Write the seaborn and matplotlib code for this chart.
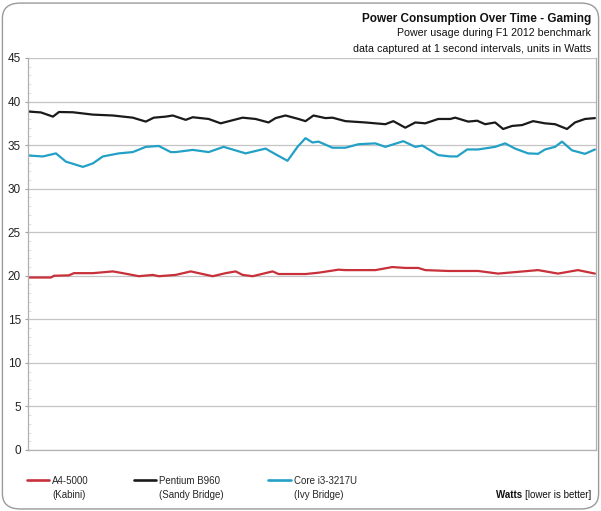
import numpy as np
import pandas as pd
import matplotlib
matplotlib.use("Agg")
import matplotlib.pyplot as plt
import seaborn as sns
from matplotlib.patches import FancyBboxPatch
from matplotlib.legend_handler import HandlerLine2D
from matplotlib.ticker import MultipleLocator

sns.set_style("white")
plt.rcParams['font.family'] = ['Liberation Sans', 'DejaVu Sans']

# time (s) and power readings (W)
t_a4 = [0, 22, 25, 40, 45, 64, 84, 94, 110, 124, 130, 147, 162, 170, 184, 197, 207, 214, 224, 244,
        250, 277, 290, 310, 317, 347, 364, 377, 390, 397, 420, 450, 470, 490, 510, 530, 550, 567]
w_a4 = [19.8, 19.8, 20.0, 20.05, 20.3, 20.3, 20.5, 20.3, 19.95, 20.1, 19.95, 20.1, 20.5, 20.3, 19.95, 20.3, 20.5, 20.1, 19.95, 20.5,
        20.2, 20.2, 20.35, 20.7, 20.65, 20.65, 21.0, 20.9, 20.9, 20.65, 20.55, 20.55, 20.25, 20.45, 20.65, 20.25, 20.65, 20.25]

t_b960 = [0, 12, 24, 30, 44, 64, 84, 104, 117, 125, 137, 144, 157, 164, 180, 192, 214, 227, 240, 247,
          257, 270, 277, 285, 297, 304, 317, 337, 357, 365, 377, 387, 397, 410, 422, 427, 440, 449,
          457, 467, 475, 484, 494, 505, 517, 527, 539, 547, 557, 567]
w_b960 = [38.85, 38.75, 38.27, 38.8, 38.77, 38.5, 38.4, 38.15, 37.7, 38.15, 38.27, 38.4, 37.9, 38.2, 38.0, 37.5, 38.15, 38.0, 37.6, 38.1,
          38.4, 38.0, 37.75, 38.4, 38.1, 38.15, 37.75, 37.6, 37.4, 37.75, 37.0, 37.6, 37.5, 38.0, 38.0, 38.15, 37.7, 37.8,
          37.4, 37.6, 36.85, 37.2, 37.3, 37.75, 37.5, 37.4, 36.85, 37.6, 38.0, 38.1]

t_i3 = [0, 14, 27, 37, 54, 64, 74, 90, 104, 117, 130, 142, 147, 164, 180, 195, 217, 237, 247, 259,
        269, 277, 284, 290, 304, 317, 330, 347, 357, 375, 387, 394, 410, 422, 429, 439, 450, 467,
        477, 487, 500, 510, 517, 527, 534, 544, 557, 567]
w_i3 = [33.8, 33.7, 34.05, 33.1, 32.5, 32.9, 33.7, 34.05, 34.2, 34.8, 34.9, 34.2, 34.2, 34.45, 34.2, 34.8, 34.05, 34.6, 33.95, 33.2,
        34.8, 35.8, 35.3, 35.4, 34.7, 34.7, 35.1, 35.2, 34.8, 35.45, 34.8, 34.95, 33.85, 33.7, 33.7, 34.5, 34.5, 34.8,
        35.2, 34.6, 34.05, 34.0, 34.5, 34.8, 35.4, 34.4, 34.0, 34.5]

labels = ["A4-5000\n(Kabini)", "Pentium B960\n(Sandy Bridge)", "Core i3-3217U\n(Ivy Bridge)"]
colors = ["#c8303a", "#1a1a1a", "#23a0c6"]

df = pd.concat([
    pd.DataFrame({"t": t_a4, "watts": w_a4, "cpu": labels[0]}),
    pd.DataFrame({"t": t_b960, "watts": w_b960, "cpu": labels[1]}),
    pd.DataFrame({"t": t_i3, "watts": w_i3, "cpu": labels[2]}),
])

fig = plt.figure(figsize=(6.01, 5.11), dpi=100)
ax = fig.add_axes([0.0466, 0.1194, 0.945, 0.7671])

sns.lineplot(data=df, x="t", y="watts", hue="cpu", palette=dict(zip(labels, colors)),
             linewidth=1.6, ax=ax, legend=False)

ax.set_xlim(-1, 568)
ax.set_ylim(0, 45)
ax.yaxis.set_major_locator(MultipleLocator(5))
ax.yaxis.set_minor_locator(MultipleLocator(1))
ax.set_xticks([])
ax.grid(axis="y", which="major", color="#c4c4c4", linewidth=0.9)
ax.set_axisbelow(True)
for side in ["left", "bottom", "right"]:
    ax.spines[side].set_color("#b0b0b0")
    ax.spines[side].set_linewidth(0.9)
ax.spines["top"].set_visible(False)
ax.tick_params(axis="y", which="major", direction="out", length=2.5, width=0.8, color="#a0a0a0",
               labelsize=8.5, pad=2.5, labelcolor="#222222", left=True)
ax.tick_params(axis="y", which="minor", direction="in", length=2, width=0.5, color="#d4d4d4", left=True)
ax.set_xlabel("")
ax.set_ylabel("")

fig.text(0.983, 0.963, "Power Consumption Over Time - Gaming", ha="right", va="center",
         fontsize=8.5, fontweight="bold", color="#111111")
fig.text(0.983, 0.935, "Power usage during F1 2012 benchmark", ha="right", va="center",
         fontsize=7.7, color="#111111")
fig.text(0.983, 0.905, "data captured at 1 second intervals, units in Watts", ha="right", va="center",
         fontsize=7.7, color="#111111")


class TopLine(HandlerLine2D):
    # put the legend line level with the first line of a two-line label
    def create_artists(self, legend, orig_handle, xdescent, ydescent, width, height, fontsize, trans):
        return super().create_artists(legend, orig_handle, xdescent, ydescent - height * 2.35,
                                      width, height, fontsize, trans)


handles = [plt.Line2D([], [], color=c, linewidth=1.9) for c in colors]
leg = fig.legend(handles, labels, loc="lower left", bbox_to_anchor=(0.037, 0.012), ncol=3, frameon=False,
                 fontsize=7, borderpad=0, handlelength=2.3, handletextpad=0.3, columnspacing=4.6,
                 handler_map={plt.Line2D: TopLine()})
for txt in leg.get_texts():
    txt.set_linespacing(1.55)

t1 = fig.text(0.983, 0.022, "[lower is better]", ha="right", va="bottom", fontsize=7, color="#111111")
ax.annotate("Watts ", xy=(0, 0), xycoords=t1, ha="right", va="bottom", fontsize=7,
            fontweight="bold", color="#111111")

fig.patches.append(FancyBboxPatch((0.004, 0.004), 0.992, 0.99, boxstyle="round,pad=0,rounding_size=0.03",
                                  transform=fig.transFigure, fc="none", ec="#9a9a9a", lw=1.0))

fig.savefig("out.png", dpi=100)
